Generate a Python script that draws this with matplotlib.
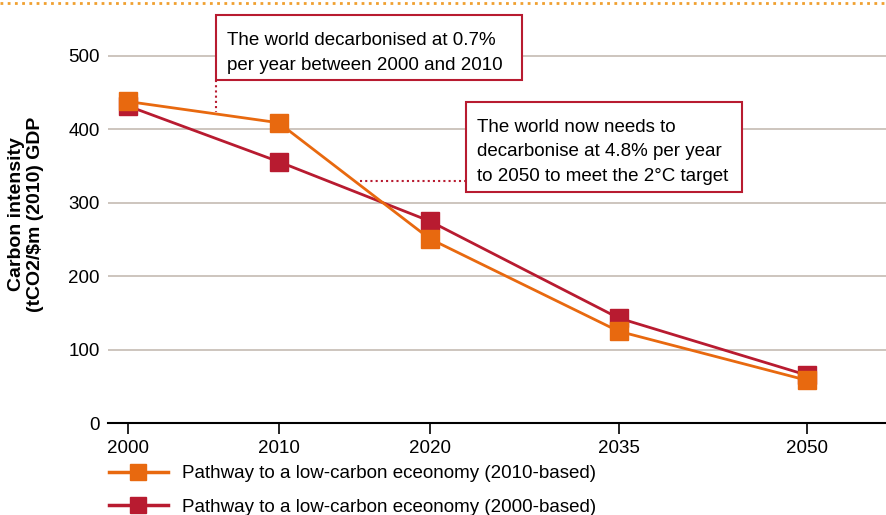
import matplotlib.pyplot as plt
from matplotlib.lines import Line2D
from matplotlib.patches import Rectangle

plt.rcParams['font.family'] = ['Liberation Sans', 'DejaVu Sans']

# data
years = ['2000', '2010', '2020', '2035', '2050']
xpos = [0, 1, 2, 3.25, 4.5]
based_2010 = [438, 409, 251, 125, 58]
based_2000 = [432, 356, 275, 143, 65]

orange = '#e8690f'
red = '#b81b30'
grid_col = '#c9c0b9'

W, H = 886, 515
fig = plt.figure(figsize=(W / 100, H / 100), dpi=100)


def fx(px):
    return px / W


def fy(py):
    return 1 - py / H


ax = fig.add_axes([fx(108), fy(423), fx(886) - fx(108), fy(20) - fy(423)])
ax.set_xlim(-0.13, 5.02)
ax.set_ylim(0, 549)

ax.plot(xpos, based_2000, color=red, lw=2, marker='s', ms=13, zorder=3)
ax.plot(xpos, based_2010, color=orange, lw=2, marker='s', ms=13, zorder=4)

ax.set_yticks([0, 100, 200, 300, 400, 500])
ax.set_xticks(xpos)
ax.set_xticklabels(years)
ax.grid(axis='y', color=grid_col, lw=1.3)
ax.set_axisbelow(True)
for s in ['top', 'right', 'left']:
    ax.spines[s].set_visible(False)
ax.spines['bottom'].set_linewidth(1.5)
ax.tick_params(axis='y', length=0, labelsize=13.5, pad=6)
ax.tick_params(axis='x', length=8, width=1.2, labelsize=13.5, pad=4)

fig.text(fx(26), fy(214), 'Carbon intensity\n(tCO2/$m (2010) GDP', rotation=90,
         ha='center', va='center', fontsize=14, fontweight='bold')

# dotted rule at the top
fig.add_artist(Line2D([0, 1], [fy(3), fy(3)], color='#f0a030', lw=2,
                      linestyle=(0, (1, 1.6))))

# annotation boxes
fig.add_artist(Rectangle((fx(216), fy(80)), fx(522) - fx(216), fy(15) - fy(80),
                         facecolor='white', edgecolor=red, lw=1.5, zorder=5))
fig.text(fx(227), fy(53), 'The world decarbonised at 0.7%\nper year between 2000 and 2010',
         ha='left', va='center', fontsize=13.5, linespacing=1.6, zorder=6)
fig.add_artist(Line2D([fx(216), fx(216)], [fy(80), fy(112)], color=red, lw=1.5,
                      linestyle=(0, (1, 1.5))))

fig.add_artist(Rectangle((fx(466), fy(192)), fx(742) - fx(466), fy(102) - fy(192),
                         facecolor='white', edgecolor=red, lw=1.5, zorder=5))
fig.text(fx(477), fy(152), 'The world now needs to\ndecarbonise at 4.8% per year\nto 2050 to meet the 2°C target',
         ha='left', va='center', fontsize=13.5, linespacing=1.6, zorder=6)
fig.add_artist(Line2D([fx(360), fx(466)], [fy(181), fy(181)], color=red, lw=1.5,
                      linestyle=(0, (1, 1.5))))

handles = [Line2D([], [], color=orange, lw=2.5, marker='s', ms=12),
           Line2D([], [], color=red, lw=2.5, marker='s', ms=12)]
labels = ['Pathway to a low-carbon eceonomy (2010-based)',
          'Pathway to a low-carbon eceonomy (2000-based)']
fig.legend(handles, labels, loc='upper left', bbox_to_anchor=(fx(100), fy(456)),
           frameon=False, fontsize=13.5, handlelength=3.1, handletextpad=0.8,
           labelspacing=0.85, borderpad=0)

fig.savefig('out.png', dpi=100)
